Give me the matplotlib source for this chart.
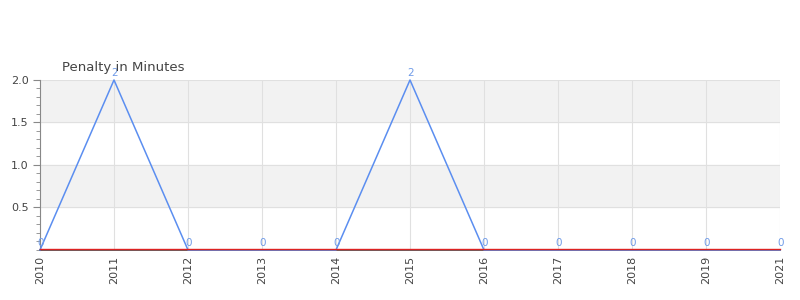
import matplotlib
matplotlib.use("Agg")
import matplotlib.pyplot as plt
from matplotlib.ticker import MultipleLocator

# Chart data
years = ["2010", "2011", "2012", "2013", "2014", "2015",
         "2016", "2017", "2018", "2019", "2021"]
penalty = [0, 2, 0, 0, 0, 2, 0, 0, 0, 0, 0]
y_ticks = [0.5, 1.0, 1.5, 2.0]
title = "Penalty in Minutes"

line_color = "#5b8ef0"
label_color = "#6f9be8"
text_color = "#444444"

fig = plt.figure(figsize=(8, 3), dpi=100)
ax = fig.add_axes([0.05, 0.1667, 0.925, 0.5667])

x = list(range(len(years)))

# Alternating background bands
for lo, hi in [(0.5, 1.0), (1.5, 2.0)]:
    ax.axhspan(lo, hi, color="#f2f2f2", zorder=0)

ax.plot(x, penalty, color=line_color, linewidth=1.1, zorder=3, clip_on=False)
ax.axhline(0.008, color="#dd2222", linewidth=1.0, zorder=4, clip_on=False)

# Data labels
for xi, v in zip(x, penalty):
    ax.annotate(str(v), (xi, v), xytext=(0.5, 1.5), textcoords="offset points",
                ha="center", va="bottom", fontsize=7.5, color=label_color,
                zorder=5, annotation_clip=False)

ax.set_xlim(0, len(years) - 1)
ax.set_ylim(0, 2.0)
ax.yaxis.set_minor_locator(MultipleLocator(0.1))
ax.set_xticks(x)
ax.set_xticklabels(years, rotation=90, fontsize=8, color=text_color)
ax.set_yticks(y_ticks)
ax.set_yticklabels([f"{t:.1f}" for t in y_ticks], fontsize=8, color=text_color)

ax.grid(True, which="major", color="#e0e0e0", linewidth=0.8, zorder=1)
ax.set_axisbelow(True)

for side in ["top", "right"]:
    ax.spines[side].set_visible(False)
ax.spines["left"].set_color("#888888")
ax.spines["bottom"].set_color("#444444")
ax.spines["bottom"].set_linewidth(1.2)
ax.tick_params(axis="y", which="major", length=5, color="#888888", pad=3)
ax.tick_params(axis="y", which="minor", length=3, color="#888888")
ax.tick_params(axis="x", length=0, pad=4)

fig.text(0.0775, 0.752, title, fontsize=9.5, color=text_color, ha="left", va="bottom")

fig.savefig("out.png", dpi=100)
